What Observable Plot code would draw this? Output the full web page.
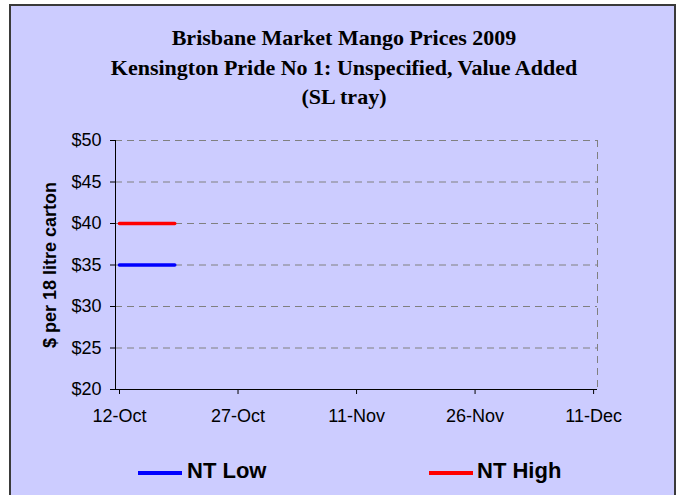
<!DOCTYPE html>
<html>
<head>
<meta charset="utf-8">
<script src="https://cdn.jsdelivr.net/npm/d3@7"></script>
<script src="https://cdn.jsdelivr.net/npm/@observablehq/plot@0.6"></script>
<style>
  html, body { margin: 0; padding: 0; background: #ffffff; width: 685px; height: 495px; overflow: hidden; }
  #frame { position: absolute; left: 9px; top: 4px; width: 667px; height: 520px; background: #CCCCFF; border: 2px solid #3a3a3a; box-sizing: border-box; }
  .title { position: absolute; left: 0; width: 688px; text-align: center; font-family: "Liberation Serif", "Times New Roman", serif; font-weight: bold; font-size: 22px; line-height: 1; color: #000; white-space: nowrap; }
  #chart { position: absolute; left: 0; top: 0; }
  #ytitle { position: absolute; font-family: "Liberation Sans", Arial, sans-serif; font-weight: bold; font-size: 18px; color: #000; white-space: nowrap; transform-origin: 0 0; }
  .leg { position: absolute; font-family: "Liberation Sans", Arial, sans-serif; font-weight: bold; font-size: 22px; color: #000; white-space: nowrap; line-height: 1; }
  .sw { position: absolute; height: 4px; }
</style>
</head>
<body>
<div id="frame"></div>
<div id="chart"></div>
<div class="title" style="top:27px">Brisbane Market Mango Prices 2009</div>
<div class="title" style="top:57px">Kensington Pride No 1: Unspecified, Value Added</div>
<div class="title" style="top:86px">(SL tray)</div>
<div id="ytitle">$ per 18 litre carton</div>
<div id="legend"></div>
<script>
// ---- data ----
const seriesNames = ["NT Low", "NT High"];
const seriesColors = ["#0000FF", "#FF0000"];
const dates = ["2009-10-12", "2009-10-19"];
const ntLow = [35, 35];
const ntHigh = [40, 40];
const xTickLabels = ["2009-10-12", "2009-10-27", "2009-11-11", "2009-11-26", "2009-12-11"];
const yTicks = [20, 25, 30, 35, 40, 45, 50];
const xDomainStr = ["2009-10-12", "2009-12-12"];

const parse = d3.utcParse("%Y-%m-%d");
const rows = [];
[ntLow, ntHigh].forEach((vals, i) => {
  vals.forEach((v, j) => rows.push({series: seriesNames[i], date: parse(dates[j]), value: v}));
});
const xTicks = xTickLabels.map(parse);
const xDomain = xDomainStr.map(parse);
const fmt = d3.utcFormat("%-d-%b");

const chart = Plot.plot({
  width: 685,
  height: 495,
  marginLeft: 115,
  marginRight: 88,
  marginTop: 140,
  marginBottom: 106,
  style: {background: "transparent", fontFamily: "'Liberation Sans', Arial, sans-serif", fontSize: "18px", color: "#000"},
  x: {type: "utc", domain: xDomain},
  y: {domain: [20, 50]},
  color: {domain: seriesNames, range: seriesColors},
  marks: [
    Plot.gridY(yTicks.filter(d => d > 20), {stroke: "#808080", strokeOpacity: 1, strokeWidth: 1, strokeDasharray: "7,5"}),
    Plot.ruleX([xDomain[1]], {stroke: "#808080", strokeWidth: 1, strokeDasharray: "7,5"}),
    Plot.axisY(yTicks, {tickFormat: d => "$" + d, tickSize: 5, tickPadding: 9, fontSize: 18, label: null, stroke: "#000"}),
    Plot.axisX(xTicks, {tickFormat: fmt, tickSize: 5, tickPadding: 15, fontSize: 18, dx: 4, label: null, stroke: "#000"}),
    Plot.ruleX([xDomain[0]], {stroke: "#000", strokeWidth: 1}),
    Plot.ruleY([20], {stroke: "#000", strokeWidth: 1}),
    Plot.line(rows, {x: d => d3.utcHour.offset(d.date, 12), y: "value", z: "series", stroke: "series", strokeWidth: 3.5})
  ]
});
document.getElementById("chart").appendChild(chart);

// y-axis title rotated, centered on plot area
const yt = document.getElementById("ytitle");
const w = yt.offsetWidth;
yt.style.left = "40px";
yt.style.top = (264.5 + w / 2) + "px";
yt.style.transform = "rotate(-90deg)";

// legend
const legend = document.getElementById("legend");
const legPos = [{x: 138, tx: 187}, {x: 429, tx: 477}];
seriesNames.forEach((name, i) => {
  const sw = document.createElement("div");
  sw.className = "sw";
  sw.style.left = legPos[i].x + "px";
  sw.style.width = "44px";
  sw.style.top = "471px";
  sw.style.background = seriesColors[i];
  legend.appendChild(sw);
  const t = document.createElement("div");
  t.className = "leg";
  t.style.left = legPos[i].tx + "px";
  t.style.top = "460px";
  t.textContent = name;
  legend.appendChild(t);
});
</script>
</body>
</html>
